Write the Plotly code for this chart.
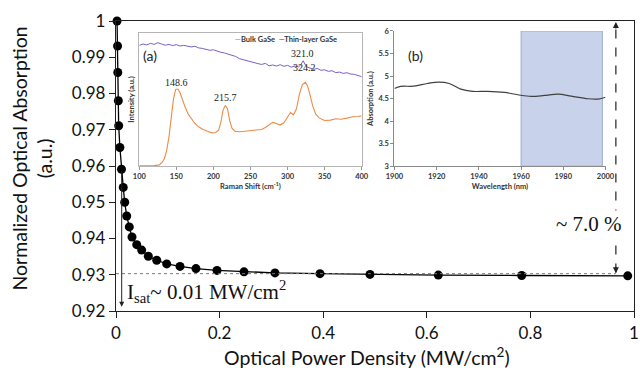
import plotly.graph_objects as go

# ---------------- main saturable absorption data ----------------
power = [0.002, 0.003, 0.0035, 0.0045, 0.0052, 0.0075, 0.0106, 0.0140, 0.0168,
         0.0207, 0.0257, 0.0309, 0.0400, 0.0496, 0.0624, 0.0786, 0.0979, 0.1236,
         0.1544, 0.1950, 0.2471, 0.3069, 0.3938, 0.4903, 0.6222, 0.7832, 0.9879]
absorption = [1.000, 0.9931, 0.9858, 0.9780, 0.9711, 0.9651, 0.9591, 0.9541, 0.9500,
              0.9462, 0.9432, 0.9404, 0.9383, 0.9368, 0.9351, 0.9340, 0.9330, 0.9323,
              0.9317, 0.9312, 0.9308, 0.9305, 0.9303, 0.9301, 0.9299, 0.9298, 0.9297]
x_ticks = [0, 0.2, 0.4, 0.6, 0.8, 1]
y_ticks = [0.92, 0.93, 0.94, 0.95, 0.96, 0.97, 0.98, 0.99, 1]

# ---------------- inset (a): Raman ----------------
bulk_shift = [100, 110, 120, 127, 131, 134, 137, 140, 143, 146, 149, 152, 155, 158, 162,
              166, 170, 175, 180, 186, 192, 198, 203, 207, 210, 213, 216, 219, 222, 225,
              229, 235, 242, 250, 258, 265, 270, 275, 280, 285, 290, 295, 300, 304, 308,
              312, 316, 320, 324, 327, 330, 334, 338, 343, 350, 358, 365, 372, 380, 388,
              395, 400]
bulk_int = [0.003, 0.003, 0.004, 0.010, 0.030, 0.060, 0.120, 0.220, 0.360, 0.500, 0.575,
            0.578, 0.550, 0.500, 0.440, 0.390, 0.355, 0.320, 0.295, 0.275, 0.262, 0.250,
            0.252, 0.270, 0.330, 0.420, 0.455, 0.430, 0.340, 0.285, 0.262, 0.258, 0.262,
            0.268, 0.272, 0.275, 0.290, 0.310, 0.328, 0.320, 0.308, 0.325, 0.370, 0.402,
            0.385, 0.430, 0.540, 0.612, 0.628, 0.600, 0.540, 0.450, 0.390, 0.360, 0.342,
            0.345, 0.355, 0.352, 0.360, 0.370, 0.372, 0.378]
thin_shift = [100, 105, 110, 115, 120, 125, 130, 135, 140, 145, 150, 155, 160, 165, 170,
              175, 180, 185, 190, 195, 200, 205, 210, 215, 220, 225, 230, 235, 240, 245,
              250, 255, 260, 265, 270, 275, 280, 285, 290, 295, 300, 305, 310, 315, 318,
              321, 324, 327, 330, 335, 340, 345, 350, 355, 360, 365, 370, 375, 380, 385,
              390, 395, 400]
thin_int = [0.905, 0.915, 0.908, 0.920, 0.912, 0.925, 0.915, 0.906, 0.912, 0.903, 0.910,
            0.900, 0.905, 0.897, 0.893, 0.898, 0.886, 0.882, 0.875, 0.868, 0.872, 0.860,
            0.853, 0.848, 0.836, 0.830, 0.822, 0.805, 0.798, 0.790, 0.782, 0.772, 0.768,
            0.762, 0.770, 0.752, 0.758, 0.750, 0.760, 0.748, 0.755, 0.742, 0.750, 0.744,
            0.760, 0.790, 0.758, 0.742, 0.735, 0.725, 0.732, 0.718, 0.722, 0.710, 0.715,
            0.700, 0.705, 0.695, 0.700, 0.690, 0.688, 0.678, 0.670]
raman_peaks = [("148.6", 149.5, 0.625), ("215.7", 215.6, 0.512),
               ("321.0", 320.8, 0.842), ("324.2", 322.2, 0.742)]

# ---------------- inset (b): absorption spectrum ----------------
wavelength = [1900, 1902.9, 1909.2, 1915.6, 1921.1, 1925.9, 1931.4, 1937, 1944.1,
              1952.1, 1958.4, 1964.8, 1971.1, 1977.5, 1983.8, 1991.7, 1996.5, 2000]
abs_b = [4.725, 4.77, 4.776, 4.835, 4.865, 4.835, 4.71, 4.66, 4.66,
         4.636, 4.585, 4.548, 4.57, 4.60, 4.555, 4.496, 4.49, 4.53]
band = [1960, 1998.5]

ORANGE = "#ED8B48"
PURPLE = "#7B5FC7"
SANS = "Lato"
SERIF = "Liberation Serif"

fig = go.Figure()
fig.add_trace(go.Scatter(x=power, y=absorption, mode="lines+markers",
                         line=dict(color="black", width=1.3),
                         marker=dict(size=9, color="black"),
                         cliponaxis=False, showlegend=False, xaxis="x", yaxis="y"))
fig.add_trace(go.Scatter(x=bulk_shift, y=bulk_int, mode="lines", name="Bulk GaSe",
                         line=dict(color=ORANGE, width=1.1), showlegend=False,
                         xaxis="x2", yaxis="y2"))
fig.add_trace(go.Scatter(x=thin_shift, y=thin_int, mode="lines", name="Thin-layer GaSe",
                         line=dict(color=PURPLE, width=1.0), showlegend=False,
                         xaxis="x2", yaxis="y2"))
fig.add_trace(go.Scatter(x=wavelength, y=abs_b, mode="lines", line=dict(color="#404040", width=1.2, shape="spline"),
                         showlegend=False, xaxis="x3", yaxis="y3"))

axis_main = dict(showline=True, linecolor="#222", linewidth=1.4, mirror=True, automargin=False,
                 ticks="outside", ticklen=6, tickcolor="#222", showgrid=False, zeroline=False,
                 ticklabeloverflow="allow",
                 tickfont=dict(family=SANS, size=17, color="#111"))
small_font = dict(family=SANS, size=7.5, color="#333", weight="bold")

fig.update_layout(
    width=640, height=371,
    margin=dict(l=116, r=6, t=21, b=60),
    paper_bgcolor="white", plot_bgcolor="white",
    showlegend=False,
    xaxis=dict(axis_main, range=[0, 1], tickvals=x_ticks, ticktext=[str(v) for v in x_ticks]),
    yaxis=dict(axis_main, range=[0.92, 1], tickvals=y_ticks,
               ticktext=["%g" % v for v in y_ticks]),
    xaxis2=dict(domain=[0.045, 0.4743], anchor="y2", range=[100, 400], dtick=50,
                showline=True, linecolor="#b5b5b5", linewidth=1, mirror=True, automargin=False,
                ticks="outside", ticklen=3, tickcolor="#999", showgrid=False, zeroline=False,
                tickfont=small_font,
                title=dict(text="Raman Shift (cm<sup>-1</sup>)", font=small_font, standoff=3)),
    yaxis2=dict(domain=[0.4993, 0.9598], anchor="x2", range=[0, 1],
                showline=True, linecolor="#b5b5b5", linewidth=1, mirror=True, automargin=False,
                showticklabels=False, ticks="", showgrid=False, zeroline=False,
                title=dict(text="Intensity (a.u.)", font=small_font, standoff=2)),
    xaxis3=dict(domain=[0.5376, 0.9450], anchor="y3", range=[1900, 2000], dtick=20,
                showline=True, linecolor="#8a8a8a", linewidth=1, automargin=False,
                ticks="outside", ticklen=3, tickcolor="#8a8a8a", showgrid=False, zeroline=False,
                tickfont=small_font,
                title=dict(text="Wavelength (nm)", font=small_font, standoff=3)),
    yaxis3=dict(domain=[0.4993, 0.9656], anchor="x3", range=[3, 6], dtick=0.5,
                showline=True, linecolor="#8a8a8a", linewidth=1, automargin=False,
                ticks="outside", ticklen=3, tickcolor="#8a8a8a", showgrid=False, zeroline=False,
                tickfont=small_font,
                title=dict(text="Absorption (a.u.)", font=small_font, standoff=3)),
)

# shaded band in inset (b)
fig.add_shape(type="rect", xref="x3", yref="y3", x0=band[0], x1=band[1], y0=3, y1=6,
              fillcolor="#c8d2ea", line=dict(color="#9aaad0", width=1), layer="below")

# dotted saturation level line
fig.add_shape(type="line", xref="x", yref="y", x0=0, x1=0.965, y0=0.9303, y1=0.9303,
              line=dict(color="#777", width=1, dash="dot"))
# dashed modulation-depth line
fig.add_shape(type="line", xref="x", yref="y", x0=0.965, x1=0.965, y0=0.9306, y1=0.9995,
              line=dict(color="#222", width=1.2, dash="dash"))

ann = []
ann.append(dict(x=0.965, y=0.9997, ax=0.965, ay=0.9975, xref="x", yref="y", axref="x", ayref="y",
                text="", showarrow=True, arrowhead=2, arrowsize=1, arrowwidth=1.2, arrowcolor="#222"))
ann.append(dict(x=0.965, y=0.9304, ax=0.965, ay=0.9326, xref="x", yref="y", axref="x", ayref="y",
                text="", showarrow=True, arrowhead=2, arrowsize=1, arrowwidth=1.2, arrowcolor="#222"))
ann.append(dict(x=0.011, y=0.9212, ax=0.011, ay=0.959, xref="x", yref="y", axref="x", ayref="y",
                text="", showarrow=True, arrowhead=2, arrowsize=1, arrowwidth=1, arrowcolor="#222"))
ann.append(dict(x=0.914, y=0.9440, xref="x", yref="y", text="~ 7.0 %", showarrow=False,
                bgcolor="white", font=dict(family=SERIF, size=21, color="#111")))
ann.append(dict(x=0.0174, y=0.9255, xref="x", yref="y", xanchor="left",
                text="I<sub>sat</sub>~ 0.01 MW/cm<sup>2</sup>", showarrow=False,
                font=dict(family=SERIF, size=21, color="#111")))
# axis titles
ann.append(dict(x=-0.162, y=0.526, xref="paper", yref="paper", textangle=-90,
                xanchor="center", yanchor="middle",
                text="Normalized Optical Absorption<br>(a.u.)", showarrow=False,
                font=dict(family=SANS, size=19.5, color="#111")))
ann.append(dict(x=0.484, y=-0.157, xref="paper", yref="paper",
                xanchor="center", yanchor="middle",
                text="Optical Power Density (MW/cm<sup>2</sup>)", showarrow=False,
                font=dict(family=SANS, size=19.5, color="#111")))
# inset (a) labels
for txt, px, py in raman_peaks:
    ann.append(dict(x=px, y=py, xref="x2", yref="y2", text=txt, showarrow=False,
                    font=dict(family=SERIF, size=10, color="#222")))
ann.append(dict(x=114.4, y=0.826, xref="x2", yref="y2", text="(a)", showarrow=False,
                font=dict(family=SANS, size=14, color="#222")))
ann.append(dict(x=297.5, y=0.945, xref="x2", yref="y2",
                text="<span style='color:%s'>—</span>Bulk GaSe  <span style='color:%s'>—</span>Thin-layer GaSe" % (ORANGE, PURPLE),
                showarrow=False, font=dict(family=SANS, size=7.5, color="#333", weight="bold")))
ann.append(dict(x=1910, y=5.45, xref="x3", yref="y3", text="(b)", showarrow=False,
                font=dict(family=SANS, size=14, color="#222")))
fig.update_layout(annotations=ann)

fig.write_html("out.html", config={"displayModeBar": False},
               post_script="document.body.style.margin='0px';")
